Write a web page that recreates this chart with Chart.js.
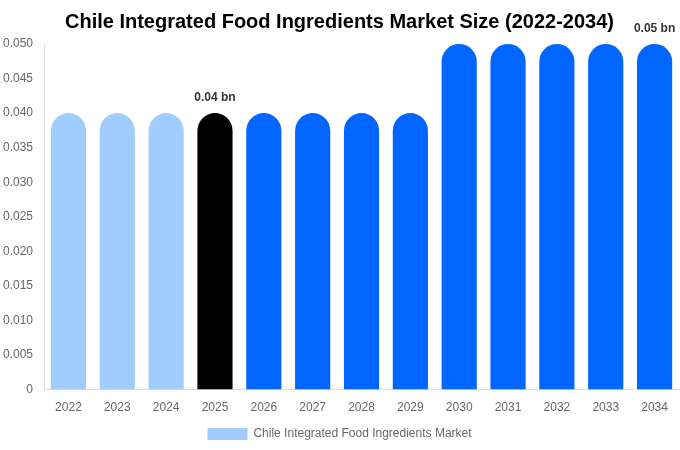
<!DOCTYPE html>
<html>
<head>
<meta charset="utf-8">
<script src="https://cdn.jsdelivr.net/npm/chart.js@4"></script>
<style>
  html, body { margin: 0; padding: 0; background: #fff; }
  #wrap { width: 680px; height: 450px; }
</style>
</head>
<body>
<div id="wrap"><canvas id="myChart"></canvas></div>
<script>
const years = ['2022', '2023', '2024', '2025', '2026', '2027', '2028', '2029', '2030', '2031', '2032', '2033', '2034'];
const marketSize = [0.04, 0.04, 0.04, 0.04, 0.04, 0.04, 0.04, 0.04, 0.05, 0.05, 0.05, 0.05, 0.05];
const barColors = ['#a0cdfd', '#a0cdfd', '#a0cdfd', '#000000', '#0066ff', '#0066ff', '#0066ff', '#0066ff', '#0066ff', '#0066ff', '#0066ff', '#0066ff', '#0066ff'];
const labelled = { 3: '0.04 bn', 12: '0.05 bn' };

Chart.defaults.font.family = '"Liberation Sans", Arial, sans-serif';

// draws the "x bn" texts above chosen bars
const valueLabels = {
    id: 'valueLabels',
    afterDatasetsDraw(chart) {
        const ctx = chart.ctx;
        const meta = chart.getDatasetMeta(0);
        ctx.save();
        ctx.font = 'bold 12px "Liberation Sans", Arial, sans-serif';
        ctx.fillStyle = '#333';
        ctx.textAlign = 'center';
        ctx.textBaseline = 'bottom';
        Object.keys(labelled).forEach(i => {
            const bar = meta.data[i];
            ctx.fillText(labelled[i], bar.x, bar.y - 9);
        });
        ctx.restore();
    }
};

const data = {
    labels: years,
    datasets: [{
        label: 'Chile Integrated Food Ingredients Market',
        data: marketSize,
        backgroundColor: barColors,
        borderRadius: 20,
        barPercentage: 0.72,
        categoryPercentage: 1
    }]
};

const config = {
    type: 'bar',
    data: data,
    options: {
        responsive: true,
        maintainAspectRatio: false,
        animation: false,
        layout: { padding: { top: 8, right: 1, left: 0, bottom: 0 } },
        plugins: {
            title: {
                display: true,
                text: 'Chile Integrated Food Ingredients Market Size (2022-2034)',
                color: '#000',
                font: { size: 20, weight: 'bold' },
                padding: { top: 2, bottom: 10 }
            },
            legend: {
                position: 'bottom',
                labels: { color: '#666', boxWidth: 40, boxHeight: 12, font: { size: 12 }, padding: 10 }
            },
            tooltip: { enabled: false }
        },
        scales: {
            x: {
                grid: { display: false },
                border: { color: '#ddd' },
                ticks: { color: '#666', font: { size: 12 } }
            },
            y: {
                min: 0,
                max: 0.05,
                grid: { display: false },
                border: { color: '#ddd' },
                ticks: {
                    stepSize: 0.005,
                    color: '#666',
                    font: { size: 12 },
                    callback: v => v === 0 ? '0' : v.toFixed(3)
                }
            }
        }
    },
    plugins: [valueLabels]
};

const myChart = new Chart(document.getElementById('myChart'), config);
</script>
</body>
</html>
